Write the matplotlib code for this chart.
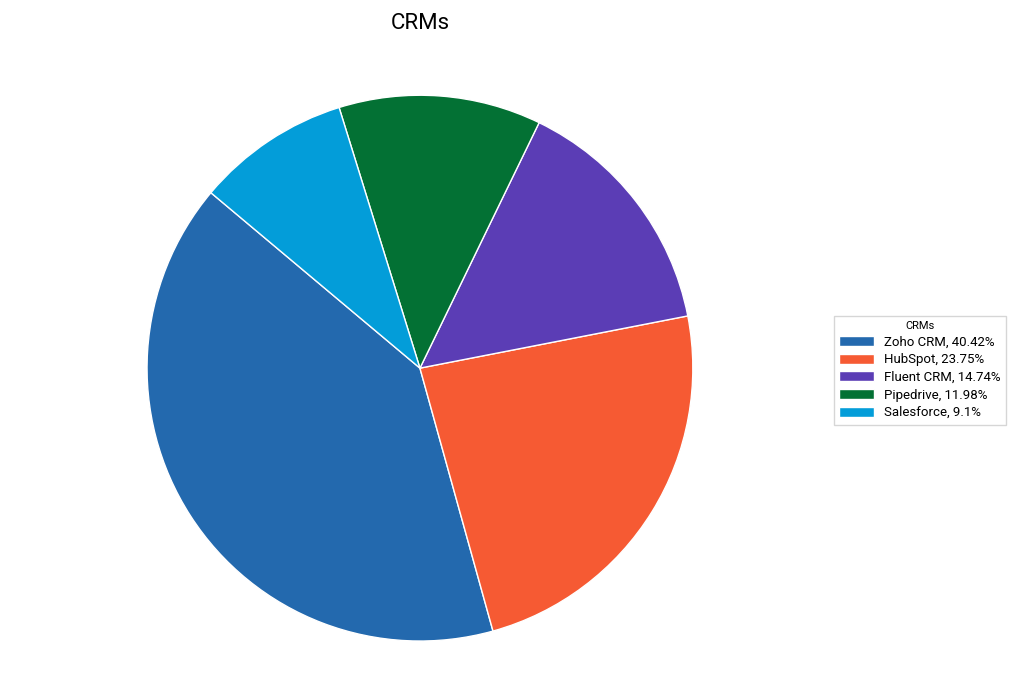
import matplotlib
matplotlib.use("Agg")
import matplotlib.pyplot as plt

labels = ["Zoho CRM", "HubSpot", "Fluent CRM", "Pipedrive", "Salesforce"]
values = [40.42, 23.75, 14.74, 11.98, 9.1]
colors = ["#2369ae", "#f65a33", "#5b3db5", "#037134", "#039dd9"]

plt.rcParams['font.family'] = ['Roboto', 'DejaVu Sans']
fig = plt.figure(figsize=(10.24, 6.83), dpi=100)
ax = fig.add_axes([0.1436, 0.061, 0.533, 0.80])
wedges, _ = ax.pie(values, colors=colors, startangle=140, counterclock=True,
                   wedgeprops=dict(edgecolor="white", linewidth=1))
ax.set_xlim(-1, 1)
ax.set_ylim(-1, 1)
ax.set_aspect("equal")
fig.text(0.41, 0.965, "CRMs", ha="center", va="center", fontsize=16)
leg_labels = [f"{l}, {v}%" for l, v in zip(labels, values)]
fig.legend(wedges, leg_labels, title="CRMs", loc="center left",
           bbox_to_anchor=(0.808, 0.458), fontsize=9.5, title_fontsize=8,
           frameon=True, fancybox=False, edgecolor="#cccccc",
           handlelength=2.6, handleheight=0.8, labelspacing=0.35)
fig.savefig("out.png", dpi=100, facecolor="white")
